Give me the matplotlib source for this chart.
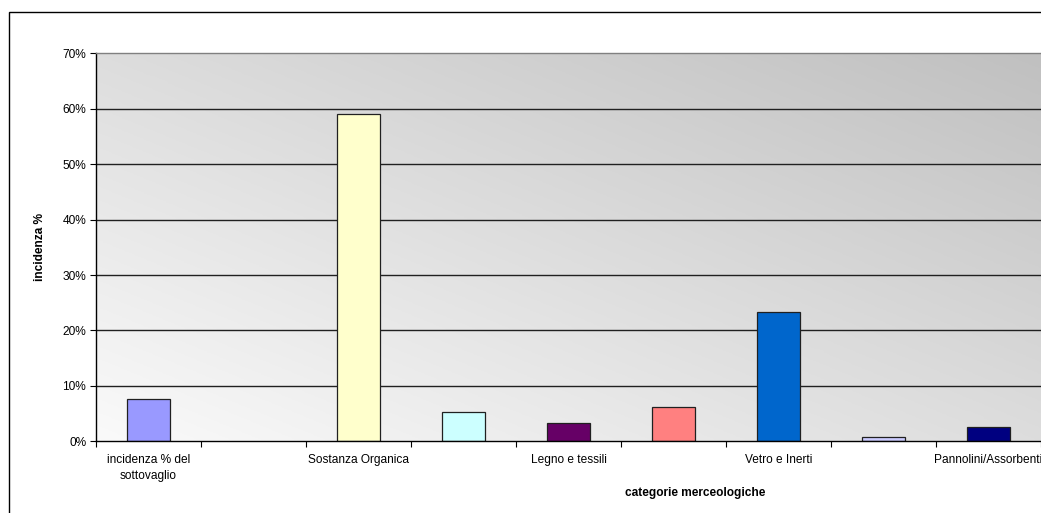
import numpy as np
import matplotlib
matplotlib.use("Agg")
import matplotlib.pyplot as plt
from matplotlib.patches import Rectangle
from matplotlib.colors import LinearSegmentedColormap

plt.rcParams['font.family'] = ['Liberation Sans', 'DejaVu Sans']

categories = ["incidenza % del\nsottovaglio", "", "Sostanza Organica", "", "Legno e tessili",
              "", "Vetro e Inerti", "", "Pannolini/Assorbenti"]
shown_labels = ["incidenza % del\nsottovaglio", "", "Sostanza Organica", "", "Legno e tessili",
                "", "Vetro e Inerti", "", "Pannolini/Assorbenti"]
values = [7.6, 0.0, 59.0, 5.3, 3.3, 6.1, 23.3, 0.7, 2.6]
colors = ["#9999FF", "#FFFFFF", "#FFFFCC", "#CCFFFF", "#660066", "#FF8080", "#0066CC", "#CCCCFF", "#000080"]
yticks = [0, 10, 20, 30, 40, 50, 60, 70]
ytick_labels = ["0%", "10%", "20%", "30%", "40%", "50%", "60%", "70%"]

W, H = 1041, 513
fig = plt.figure(figsize=(W / 100, H / 100), dpi=100)
fig.patch.set_facecolor("white")

ax = fig.add_axes([96 / W, (H - 441.3) / H, (W - 96) / W, (441.3 - 53.3) / H])

n = len(values)
# gradient background
u = np.linspace(0, 1, 300)
v = np.linspace(0, 1, 300)
U, V = np.meshgrid(u, v)
T = (U + V) / 2.0
cmap = LinearSegmentedColormap.from_list("g", ["#FAFAFA", "#C0C0C0"])
ax.imshow(T, cmap=cmap, origin="lower", extent=[-0.5, n - 0.5, 0, 70],
          aspect="auto", zorder=0, vmin=0, vmax=1)

ax.set_xlim(-0.5, n - 0.5)
ax.set_ylim(0, 70)

for yt in yticks[1:-1]:
    ax.axhline(yt, color="#202020", lw=1.0, zorder=1)

x = np.arange(n)
for xi, val, c in zip(x, values, colors):
    if val > 0:
        ax.bar(xi, val, width=0.41, color=c, edgecolor="#202020", linewidth=0.9, zorder=2)

ax.set_yticks(yticks)
ax.set_yticklabels(ytick_labels, fontsize=8.6)
ax.set_xticks(np.arange(n + 1) - 0.5)
ax.set_xticklabels([])
ax.set_xticks(x, minor=True)
ax.set_xticklabels(shown_labels, minor=True, fontsize=8.6, linespacing=1.5)
ax.tick_params(axis="x", which="minor", length=0, pad=9)
ax.tick_params(axis="x", which="major", length=4, direction="out", color="black")
ax.tick_params(axis="y", length=4, direction="out", color="black", pad=3)

for s in ["left", "bottom"]:
    ax.spines[s].set_color("black")
    ax.spines[s].set_linewidth(1.0)
ax.spines["top"].set_color("#808080")
ax.spines["top"].set_linewidth(1.0)
ax.spines["right"].set_visible(False)

fig.text(40 / W, (H - 247) / H, "incidenza %", rotation=90, ha="center", va="center",
         fontsize=8.6, fontweight="bold")
fig.text(695 / W, (H - 493) / H, "categorie merceologiche", ha="center", va="center",
         fontsize=8.6, fontweight="bold")

fig.patches.append(Rectangle((8.5 / W, -0.1), 1.2, 0.1 + (H - 12) / H, transform=fig.transFigure,
                             fill=False, edgecolor="black", linewidth=1.0))

fig.savefig("out.png", dpi=100)
